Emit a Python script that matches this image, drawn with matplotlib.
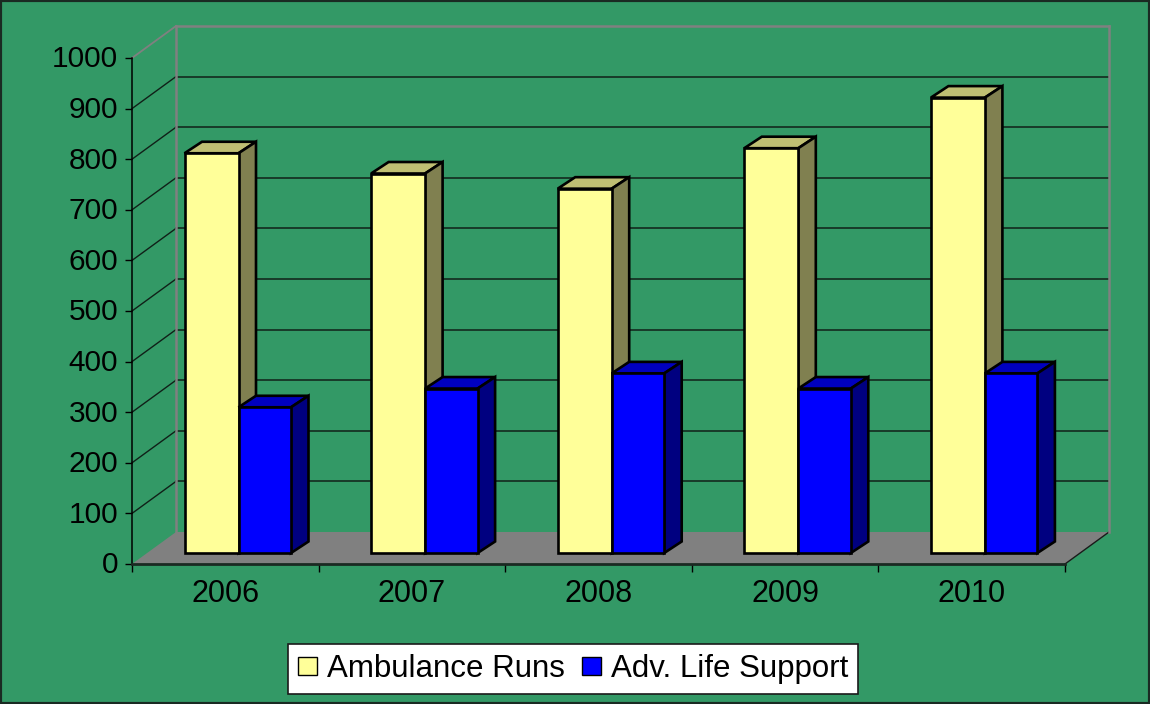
#!/usr/bin/env python3
import matplotlib
matplotlib.use("Agg")
import matplotlib.pyplot as plt
from matplotlib.patches import Patch, Polygon, Rectangle
from matplotlib.transforms import ScaledTranslation

plt.rcParams['font.family'] = ['Liberation Sans', 'DejaVu Sans']

years = ['2006', '2007', '2008', '2009', '2010']
ambulance_runs = [790, 750, 720, 800, 900]
adv_life_support = [288, 325, 355, 325, 355]
y_ticks = list(range(0, 1001, 100))

GREEN = '#339966'
GRAY = '#808080'
W, H = 1150, 704
# front plane of the fake 3D box, in pixels
LEFT, RIGHT, BOTTOM, TOP = 132, 1065, 564, 58
PX_X = (RIGHT - LEFT) / len(years)
PX_Y = (BOTTOM - TOP) / 1000.0

# wall depth and bar depth, converted to data units
WALL_DX, WALL_DY = 44 / PX_X, 32 / PX_Y
BAR_DX, BAR_DY = 17.5 / PX_X, 11.5 / PX_Y
BAR_BASE = 11 / PX_Y
BAR_START = 52.5 / PX_X
YELLOW_W = 54 / PX_X
BLUE_W = 52.5 / PX_X
BAR_LW = 1.9


def poly(ax, pts, color, edge=None, lw=0, z=1):
    ax.add_patch(Polygon(pts, closed=True, facecolor=color, edgecolor=edge or color,
                         linewidth=lw, zorder=z, clip_on=False, joinstyle='miter'))


def bar3d(ax, x, w, value, front, top, side, z):
    y0 = BAR_BASE
    y1 = BAR_BASE + value
    poly(ax, [(x, y1), (x + w, y1), (x + w + BAR_DX, y1 + BAR_DY), (x + BAR_DX, y1 + BAR_DY)],
         top, 'black', BAR_LW, z)
    poly(ax, [(x + w, y0), (x + w + BAR_DX, y0 + BAR_DY), (x + w + BAR_DX, y1 + BAR_DY), (x + w, y1)],
         side, 'black', BAR_LW, z)
    ax.add_patch(Rectangle((x, y0), w, value, facecolor=front, edgecolor='black',
                           linewidth=BAR_LW, zorder=z, clip_on=False))


fig = plt.figure(figsize=(W / 100, H / 100), dpi=100, facecolor=GREEN)
fig.add_artist(Rectangle((0, 0), 1, 1, transform=fig.transFigure, fill=False,
                         edgecolor='#1a2a22', linewidth=3))
ax = fig.add_axes([LEFT / W, 1 - BOTTOM / H, (RIGHT - LEFT) / W, (BOTTOM - TOP) / H])
ax.set_xlim(0, len(years))
ax.set_ylim(0, 1000)
ax.patch.set_visible(False)

# floor
n = len(years)
poly(ax, [(0, 0), (n, 0), (n + WALL_DX, WALL_DY), (WALL_DX, WALL_DY)], GRAY, z=0.5)
ax.plot([n, n + WALL_DX], [0, WALL_DY], color='#1a1a1a', lw=1, clip_on=False, zorder=0.6)

# gridlines on the back and left walls
for t in y_ticks[1:-1]:
    ax.plot([WALL_DX, n + WALL_DX], [t + WALL_DY] * 2, color='#102018', lw=1.1,
            clip_on=False, zorder=0.7)
    ax.plot([0, WALL_DX], [t, t + WALL_DY], color='#102018', lw=1, clip_on=False, zorder=0.7)

# wall outline
top_y = 1000 + WALL_DY
ax.plot([WALL_DX, WALL_DX], [WALL_DY, top_y], color=GRAY, lw=1.8, clip_on=False, zorder=0.8)
ax.plot([WALL_DX, n + WALL_DX], [top_y, top_y], color=GRAY, lw=1.8, clip_on=False, zorder=0.8)
ax.plot([n + WALL_DX, n + WALL_DX], [WALL_DY, top_y], color=GRAY, lw=1.8, clip_on=False, zorder=0.8)
ax.plot([0, WALL_DX], [1000, top_y], color=GRAY, lw=1.3, clip_on=False, zorder=0.8)

for i in range(n):
    x = i + BAR_START
    bar3d(ax, x, YELLOW_W, ambulance_runs[i], '#FFFF99', '#BFBF73', '#808050', 2 + i)
    bar3d(ax, x + YELLOW_W, BLUE_W, adv_life_support[i], '#0000FF', '#0000BF', '#000080', 2.5 + i)

for name in ('top', 'right'):
    ax.spines[name].set_visible(False)
ax.spines['left'].set_linewidth(1.1)
ax.spines['bottom'].set_linewidth(2)
ax.spines['bottom'].set_color('#1a2a22')

ax.set_yticks(y_ticks)
ax.tick_params(axis='y', labelsize=21.5, length=5, width=1, pad=5)
shift = ScaledTranslation(0, 1.2 / 72, fig.dpi_scale_trans)
for lab in ax.get_yticklabels():
    lab.set_transform(lab.get_transform() + shift)
ax.set_xticks(range(n + 1))
ax.set_xticklabels([])
ax.set_xticks([i + 0.5 for i in range(n)], minor=True)
ax.set_xticklabels(years, minor=True)
ax.tick_params(axis='x', which='major', length=6, width=1)
ax.tick_params(axis='x', which='minor', length=0, labelsize=22, pad=11)

handles = [Patch(facecolor='#FFFF99', edgecolor='black', label='Ambulance Runs'),
           Patch(facecolor='#0000FF', edgecolor='black', label='Adv. Life Support')]
leg = fig.legend(handles=handles, ncols=2, loc='center left', bbox_to_anchor=(288 / W, 1 - 669 / H),
                 frameon=True, fancybox=False, framealpha=1, facecolor='white',
                 edgecolor='#1a1a1a', fontsize=22.5, handlelength=0.6, handleheight=0.55,
                 handletextpad=0.32, columnspacing=0.55, borderpad=0.32, borderaxespad=0)
leg.get_frame().set_linewidth(1.2)

fig.savefig('out.png', dpi=100, facecolor=GREEN)
